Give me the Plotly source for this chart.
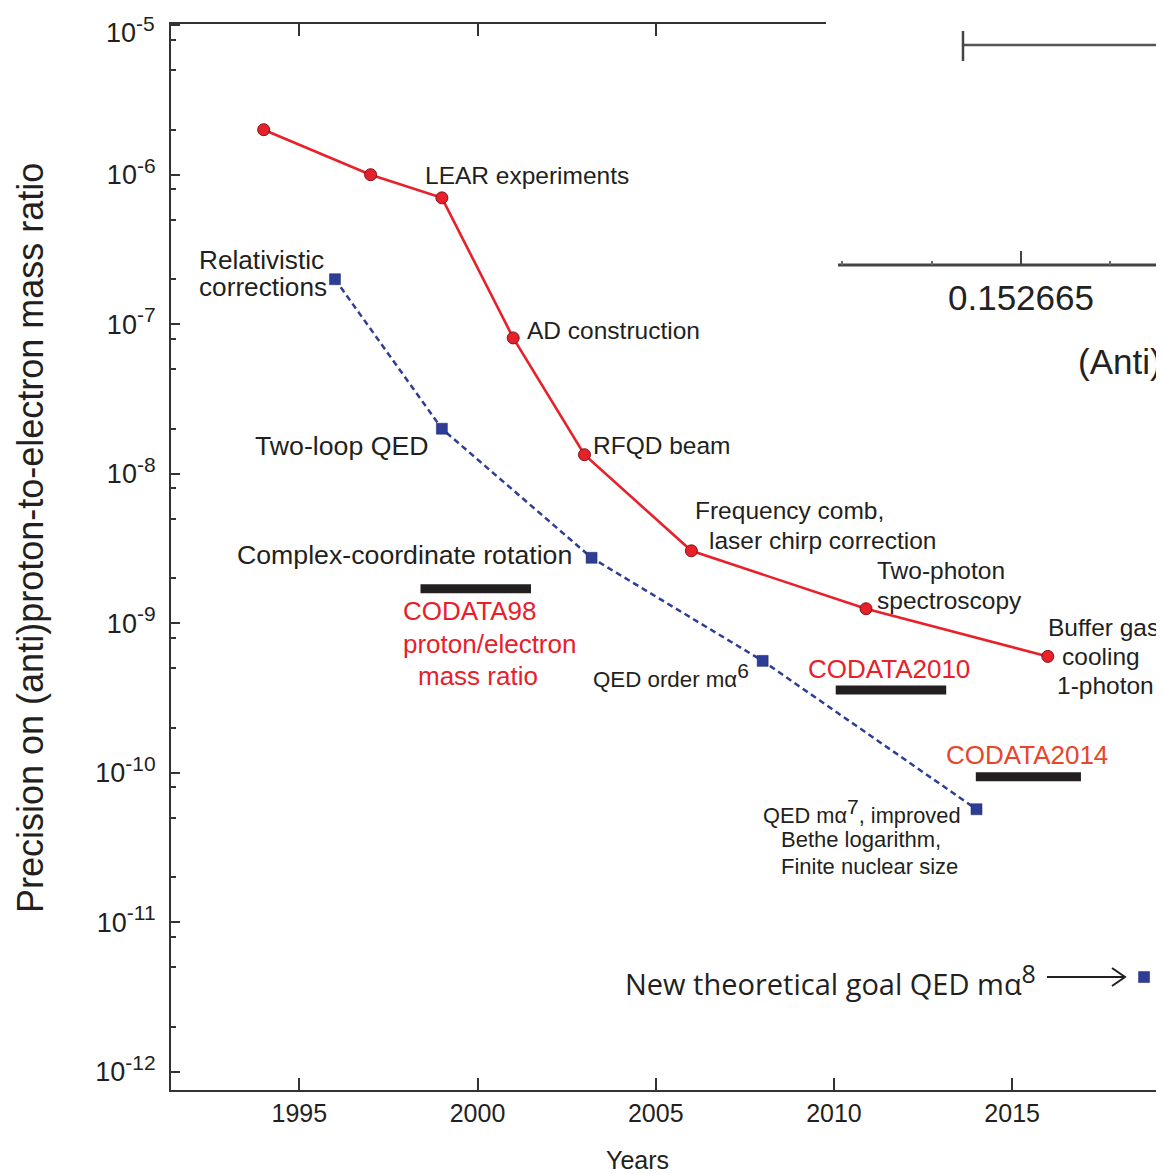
import plotly.graph_objects as go

# ---------------- data ----------------
exp_years = [1994, 1997, 1999, 2001, 2003, 2006, 2010.9, 2016]
exp_precision = [2.0e-6, 1.0e-6, 7.0e-7, 8.1e-8, 1.34e-8, 3.05e-9, 1.25e-9, 6.0e-10]

theory_years = [1996, 1999, 2003.2, 2008, 2014]
theory_precision = [2.0e-7, 2.0e-8, 2.74e-9, 5.6e-10, 5.7e-11]

goal_year = [2018.7]
goal_precision = [4.3e-12]

codata_labels = ["CODATA98", "CODATA2010", "CODATA2014"]
codata_start = [1998.4, 2010.05, 2013.98]
codata_end = [2001.5, 2013.15, 2016.93]
codata_precision = [1.7e-9, 3.58e-10, 9.4e-11]

x_tickvals = [1995, 2000, 2005, 2010, 2015]
y_exponents = [-12, -11, -10, -9, -8, -7, -6, -5]
y_tickvals = [10.0 ** e for e in y_exponents]
y_ticktext = ["10<sup><span style='font-size:21px'>%d</span></sup>" % e for e in y_exponents]
y_minor_vals = [m * 10.0 ** e for e in y_exponents[:-1] for m in (2, 5, 8)]

# ---------------- layout helpers (window pixel coords) ----------------
OFF = 8                      # page body margin
WIN_W, WIN_H = 1164, 1174
W, H = WIN_W - OFF, WIN_H - OFF
L, R, T, B = 171, 1164, 24, 1090   # plot area in window pixels
FONT = "Liberation Sans, Arial, Helvetica, sans-serif"
DARK = "#231f20"
RED = "#e8202a"
BLUE = "#2e3d96"


def P(x, y):
    return (x - L) / (R - L), (B - y) / (B - T)


fig = go.Figure()

# CODATA bars
bx, by = [], []
for s, e, v in zip(codata_start, codata_end, codata_precision):
    bx += [s, e, None]
    by += [v, v, None]
fig.add_trace(go.Scatter(x=bx, y=by, mode="lines",
                         line=dict(color=DARK, width=9), hoverinfo="skip",
                         showlegend=False))

# theory (blue dashed)
fig.add_trace(go.Scatter(x=theory_years, y=theory_precision, mode="lines+markers",
                         line=dict(color=BLUE, width=2.5, dash="6px,4px"),
                         marker=dict(symbol="square", size=11, color=BLUE,
                                     line=dict(color="#1d2760", width=0.5)),
                         showlegend=False))
fig.add_trace(go.Scatter(x=goal_year, y=goal_precision, mode="markers",
                         marker=dict(symbol="square", size=11, color=BLUE,
                                     line=dict(color="#1d2760", width=0.5)),
                         showlegend=False))

# experiment (red solid)
fig.add_trace(go.Scatter(x=exp_years, y=exp_precision, mode="lines+markers",
                         line=dict(color=RED, width=2.6),
                         marker=dict(symbol="circle", size=12, color=RED,
                                     line=dict(color="#7a1418", width=1)),
                         showlegend=False))

annotations = []


def label(x, y, text, size=24.5, color=DARK, anchor="left", family=FONT):
    px_, py_ = P(x, y)
    annotations.append(dict(x=px_, y=py_, xref="paper", yref="paper", text=text,
                            showarrow=False, xanchor=anchor, yanchor="middle",
                            font=dict(family=family, size=size, color=color)))


def sup(t, size):
    return "<sup><span style='font-size:%dpx'>%s</span></sup>" % (size, t)


# top tick label (drawn slightly below the frame edge, as in the original)
label(157, 30, y_ticktext[-1], size=27, anchor="right")
y_ticktext_axis = y_ticktext[:-1] + [""]

# experiment milestones
label(423, 175, "LEAR experiments")
label(525, 330, "AD construction")
label(591, 445, "RFQD beam")
label(693, 510, "Frequency comb,")
label(707, 540, "laser chirp correction")
label(875, 570, "Two-photon")
label(875, 600, "spectroscopy")
label(1046, 627, "Buffer gas")
label(1060, 656, "cooling")
label(1055, 685, "1-photon")

# theory milestones
label(197, 260, "Relativistic", size=26.2)
label(197, 287, "corrections", size=26.2)
label(431, 446, "Two-loop QED", anchor="right", size=26.7)
label(574, 555, "Complex-coordinate rotation", anchor="right", size=26.7)
label(591, 676, "QED order mα" + sup("6", 21), size=22.3)
label(761, 811, "QED mα" + sup("7", 21) + ", improved", size=21.8)
label(779, 839, "Bethe logarithm,", size=22)
label(779, 866, "Finite nuclear size", size=22)

label(401, 611, codata_labels[0], size=26, color=RED)
label(401, 644, "proton/electron", size=26, color=RED)
label(416, 676, "mass ratio", size=26, color=RED)
label(806, 669, codata_labels[1], size=26, color=RED)
label(944, 755, codata_labels[2], size=26, color="#e8452c")

label(623, 979, "New theoretical goal QED mα" + sup("8", 25), size=29,
      family="Open Sans, Lato, sans-serif")

# axis titles
px_, py_ = P(30, 538)
annotations.append(dict(x=px_, y=py_, xref="paper", yref="paper",
                        text="Precision on (anti)proton-to-electron mass ratio",
                        textangle=-90, showarrow=False, xanchor="center", yanchor="middle",
                        font=dict(family=FONT, size=36, color=DARK)))
label(637, 1160, "Years", size=25, anchor="center")

# inset (overlapping panel) texts
label(1021, 297, "0.152665", size=35, anchor="center", color="#222222")
label(1076, 362, "(Anti)", size=35, color="#222222")

shapes = []
# white inset covering top-right
x0, y0 = P(826, 470)
x1, y1 = P(1170, 0)
shapes.append(dict(type="rect", xref="paper", yref="paper", x0=x0, y0=y0, x1=x1, y1=y1,
                   fillcolor="white", line=dict(width=0), layer="above"))


def seg(xa, ya, xb, yb, width=2, color="#444444"):
    a = P(xa, ya)
    b = P(xb, yb)
    shapes.append(dict(type="line", xref="paper", yref="paper", x0=a[0], y0=a[1],
                       x1=b[0], y1=b[1], line=dict(color=color, width=width), layer="above"))


# inset error bar
seg(963, 45, 1170, 45, width=2.5, color="#555555")
seg(963, 31, 963, 61, width=2.5, color="#444444")
# inset axis
seg(838, 265, 1170, 265, width=3, color="#444444")
seg(1021, 251, 1021, 265, width=2, color="#444444")
for xm in (842, 932, 1110):
    seg(xm, 261, xm, 265, width=2, color="#666666")

# arrow to new goal
seg(1047, 977, 1124, 977, width=2, color=DARK)
a = P(1112, 968)
b = P(1125, 977)
c = P(1112, 986)
shapes.append(dict(type="path", xref="paper", yref="paper",
                   path="M %f,%f L %f,%f L %f,%f" % (a[0], a[1], b[0], b[1], c[0], c[1]),
                   line=dict(color=DARK, width=2), layer="above"))

fig.update_layout(
    width=W, height=H,
    margin=dict(l=L - OFF, r=WIN_W - R, t=T - OFF, b=WIN_H - B, autoexpand=False),
    paper_bgcolor="white", plot_bgcolor="white",
    font=dict(family=FONT, color=DARK),
    annotations=annotations,
    shapes=shapes,
    showlegend=False,
)
fig.update_xaxes(range=[1991.40, 2019.26], tickvals=x_tickvals, automargin=False,
                 ticks="inside", ticklen=12, tickwidth=1.5, tickcolor="#333333",
                 showline=True, linecolor="#333333", linewidth=2, mirror="ticks",
                 showgrid=False, zeroline=False,
                 tickfont=dict(size=25, color=DARK, family=FONT), ticklabelstandoff=0)
fig.update_yaxes(type="log", range=[-12.122, -4.992], tickvals=y_tickvals,
                 ticktext=y_ticktext_axis, automargin=False,
                 ticks="inside", ticklen=9, tickwidth=1.5, tickcolor="#333333",
                 minor=dict(tickvals=y_minor_vals, ticks="inside", ticklen=5, tickwidth=1.5,
                            tickcolor="#333333"),
                 showline=True, linecolor="#333333", linewidth=2,
                 showgrid=False, zeroline=False,
                 tickfont=dict(size=27, color=DARK, family=FONT), ticklabelstandoff=8)

fig.write_html("out.html")
